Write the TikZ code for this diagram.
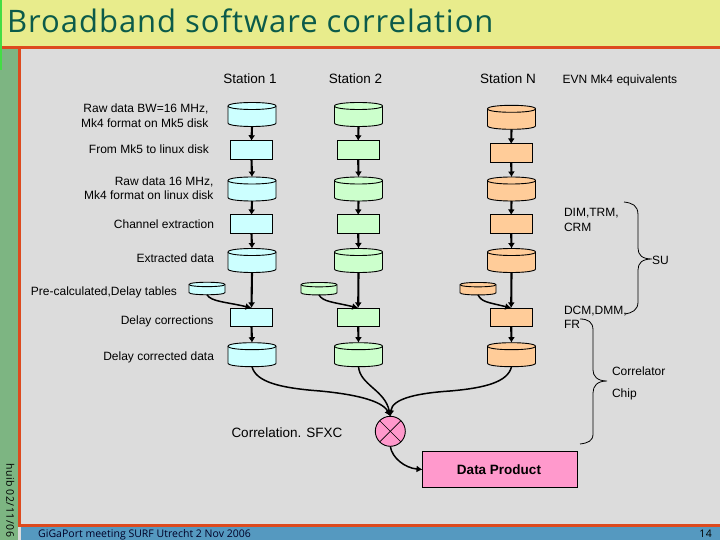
\documentclass[tikz,border=0pt]{standalone}
\usepackage{fontspec}
\setmainfont{Liberation Sans}
\newfontfamily\titlefont[LetterSpace=3.1]{Open Sans}
\newfontfamily\footfont[LetterSpace=0.2]{Open Sans}
\newfontfamily\datefont[LetterSpace=4.8]{Open Sans}
\usetikzlibrary{arrows.meta}
\definecolor{bgG}{HTML}{DCDCDC}
\definecolor{bandY}{HTML}{E8EC8C}
\definecolor{redL}{HTML}{DD4A1E}
\definecolor{stripG}{HTML}{7DB582}
\definecolor{stripB}{HTML}{5599C0}
\definecolor{titleG}{HTML}{0B5B4A}
\definecolor{limeL}{HTML}{44DD44}
\definecolor{cyanF}{HTML}{CCFFFF}
\definecolor{greenF}{HTML}{CCFFCC}
\definecolor{orangeF}{HTML}{FFCC99}
\definecolor{pinkF}{HTML}{FF99CC}
\newcommand{\drum}[5]{%
  \begin{scope}[shift={(#1.center)}]
    \draw[line width=0.9pt,fill=#2]
      ({-#3},{-#4+#5}) .. controls ({-#3},{-#4-0.333*#5}) and ({#3},{-#4-0.333*#5}) .. ({#3},{-#4+#5})
      -- ({#3},{#4-#5}) .. controls ({#3},{#4+0.333*#5}) and ({-#3},{#4+0.333*#5}) .. ({-#3},{#4-#5}) -- cycle;
    \draw[line width=0.9pt]
      ({-#3},{-#4+#5}) .. controls ({-#3},{-#4+2.333*#5}) and ({#3},{-#4+2.333*#5}) .. ({#3},{-#4+#5});
  \end{scope}}
\tikzset{
  x=1pt,y=-1pt,
  cyl/.style={rectangle,minimum width=48pt,minimum height=24pt,inner sep=0pt,outer sep=0pt},
  scyl/.style={rectangle,minimum width=36pt,minimum height=12.5pt,inner sep=0pt,outer sep=0pt},
  proc/.style={rectangle,draw=black,line width=0.9pt,fill=#1,minimum width=42.5pt,minimum height=18.5pt,inner sep=0pt,outer sep=0pt},
  flow/.style={line width=2.1pt,-{Latex[length=5.5pt,width=7pt]}},
  curvy/.style={line width=1.5pt,-{Latex[length=6pt,width=7pt]}},
  brc/.style={line width=0.8pt,black},
  lab/.style={font=\fontsize{12}{14}\selectfont,text=black,inner sep=0pt,outer sep=0pt},
  head/.style={font=\fontsize{13.5}{16}\selectfont,text=black,inner sep=0pt,outer sep=0pt},
}
\begin{document}
\begin{tikzpicture}
\useasboundingbox (0,0) rectangle (720,540);
\fill[bgG] (0,0) rectangle (720,540);
\fill[bandY] (0,0) rectangle (720,47);
\fill[stripG] (0,49) rectangle (18,540);
\fill[stripB] (21,527) rectangle (720,540);
\fill[redL] (1,46.5) rectangle (720,49.5);
\fill[redL] (18,49) rectangle (21,527);
\fill[redL] (21,524) rectangle (720,527);
\fill[limeL] (0,0) rectangle (1.5,70);

\node[anchor=base west,inner sep=0pt,text=titleG,font=\fontsize{31}{36}\selectfont\titlefont] (title) at (7,33) {Broadband software correlation};
\node[anchor=base west,inner sep=0pt,text=black!85!blue,font=\fontsize{10.5}{12}\selectfont\footfont] (foot) at (38,537) {GiGaPort meeting SURF Utrecht 2 Nov 2006};
\node[anchor=base east,inner sep=0pt,text=black,font=\fontsize{10.5}{12}\selectfont\datefont] (pg) at (712,537) {14};
\node[rotate=-90,anchor=north west,inner sep=0pt,text=black,font=\fontsize{10.5}{12}\selectfont\datefont] (date) at (14.5,463) {huib 02/11/06};

% Station 1
\node[cyl] (a1) at (252,114.5) {};
\node[proc=cyanF] (a2) at (251.5,150) {};
\node[cyl] (a3) at (252,189) {};
\node[proc=cyanF] (a4) at (251.5,224.2) {};
\node[cyl] (a5) at (252,260.5) {};
\node[scyl] (as) at (207,288.5) {};
\node[proc=cyanF] (a6) at (251.5,317.2) {};
\node[cyl] (a7) at (252,354.7) {};
% Station 2
\node[cyl] (b1) at (358.5,114.5) {};
\node[proc=greenF] (b2) at (358.2,150) {};
\node[cyl] (b3) at (358.5,189) {};
\node[proc=greenF] (b4) at (358.2,224.2) {};
\node[cyl] (b5) at (358.5,260.5) {};
\node[scyl] (bs) at (319,288.7) {};
\node[proc=greenF] (b6) at (358.2,317.2) {};
\node[cyl] (b7) at (358.5,354.7) {};
% Station N
\node[cyl] (c1) at (511.5,117.3) {};
\node[proc=orangeF] (c2) at (511.2,153.2) {};
\node[cyl] (c3) at (511.5,189) {};
\node[proc=orangeF] (c4) at (511.2,224.2) {};
\node[cyl] (c5) at (511.5,260.5) {};
\node[scyl] (cs) at (478,288.7) {};
\node[proc=orangeF] (c6) at (511.2,317.2) {};
\node[cyl] (c7) at (511.5,354.7) {};

\foreach \n/\k in {a/cyanF,b/greenF,c/orangeF}{
  \foreach \i in {1,3,5,7}{\drum{\n\i}{\k}{24}{12}{3.5}}
  \drum{\n s}{\k}{18}{6.25}{2.2}
}

\node[circle,draw=black,line width=0.9pt,fill=pinkF,minimum size=30pt,inner sep=0pt,outer sep=0pt] (x) at (390.3,431.3) {};
\draw[line width=0.6pt] (x.north west) -- (x.south east);
\draw[line width=0.6pt] (x.north east) -- (x.south west);
\node[rectangle,draw=black,line width=0.9pt,fill=pinkF,minimum width=155pt,minimum height=36pt,inner sep=0pt,outer sep=0pt,font=\fontsize{13.5}{15}\selectfont\bfseries] (dp) at (500,469.5) {\hspace{-2pt}Data Product};

\foreach \s in {a,b,c}{
  \draw[flow] (\s1.south) -- (\s2.north);
  \draw[flow] (\s2.south) -- (\s3.north);
  \draw[flow] (\s3.south) -- (\s4.north);
  \draw[flow] (\s4.south) -- (\s5.north);
  \draw[flow] (\s5.south) -- (\s6.north);
  \draw[flow] (\s6.south) -- (\s7.north);
  \draw[curvy] (\s s.south) .. controls +(4,7) and +(-25,-6) .. (\s6.north);
}
\draw[curvy] (a7.south) .. controls (256,382) and (280,388) .. (320,391) .. controls (352,394) and (382,400) .. (x.north);
\draw[curvy] (b7.south) .. controls (360,385) and (385,390) .. (x.north);
\draw[curvy] (c7.south) .. controls (508,382) and (485,388) .. (450,391) .. controls (420,393) and (392,398) .. (x.north);
\draw[curvy] (x.south) .. controls (392,458) and (405,468) .. (dp.west);

% braces
\coordinate (u1) at (624,202);
\coordinate (u2) at (625,314);
\coordinate (u3) at (652,259);
\draw[brc] (u1) .. controls (632,203) and (638,205) .. (638,215) -- (638,248) .. controls (638,255) and (642,259) .. (u3)
  .. controls (642,259) and (638,263) .. (638,270) -- (638,302) .. controls (638,310) and (632,313) .. (u2);
\coordinate (v1) at (580,319);
\coordinate (v2) at (580,444);
\coordinate (v3) at (607,381);
\draw[brc] (v1) .. controls (588,319) and (593,322) .. (593,330) -- (593,370) .. controls (593,376) and (597,381) .. (v3)
  .. controls (597,381) and (593,386) .. (593,393) -- (593,434) .. controls (593,441) and (588,443) .. (v2);

% labels
\node[head,anchor=base] (h1) at (250,84) {Station 1};
\node[head,anchor=base] (h2) at (355.5,84) {Station 2};
\node[head,anchor=base] (h3) at (508,84) {Station N};
\node[lab,anchor=base west] (h4) at (562.5,84) {EVN Mk4 equivalents};
\node[lab,anchor=base east,align=right,font=\fontsize{12}{15.5}\selectfont] (l1) at (208.5,128) {Raw data BW=16 MHz,\\Mk4 format on Mk5 disk};
\node[lab,anchor=base east] (l2) at (209,154) {From Mk5 to linux disk};
\node[lab,anchor=base east,align=right,font=\fontsize{12}{14}\selectfont] (l3) at (213.5,200) {Raw data 16 MHz,\\Mk4 format on linux disk};
\node[lab,anchor=base east] (l4) at (214,229) {Channel extraction};
\node[lab,anchor=base east] (l5) at (214,262) {Extracted data};
\node[lab,anchor=base east] (l6) at (177,295) {Pre-calculated,Delay tables};
\node[lab,anchor=base east] (l7) at (213.5,324) {Delay corrections};
\node[lab,anchor=base east] (l8) at (214,360) {Delay corrected data};
\node[lab,anchor=base west,align=left] (r1) at (564,231) {DIM,TRM,\\CRM};
\node[lab,anchor=base west] (r2) at (652,264) {SU};
\node[lab,anchor=base west,align=left] (r3) at (564,328) {DCM,DMM,\\FR};
\node[lab,anchor=base west] (r4) at (612,375) {Correlator};
\node[lab,anchor=base west] (r5) at (612,397) {Chip};
\node[head,anchor=base west] (r6) at (231.5,437) {Correlation. SFXC};
\end{tikzpicture}
\end{document}
